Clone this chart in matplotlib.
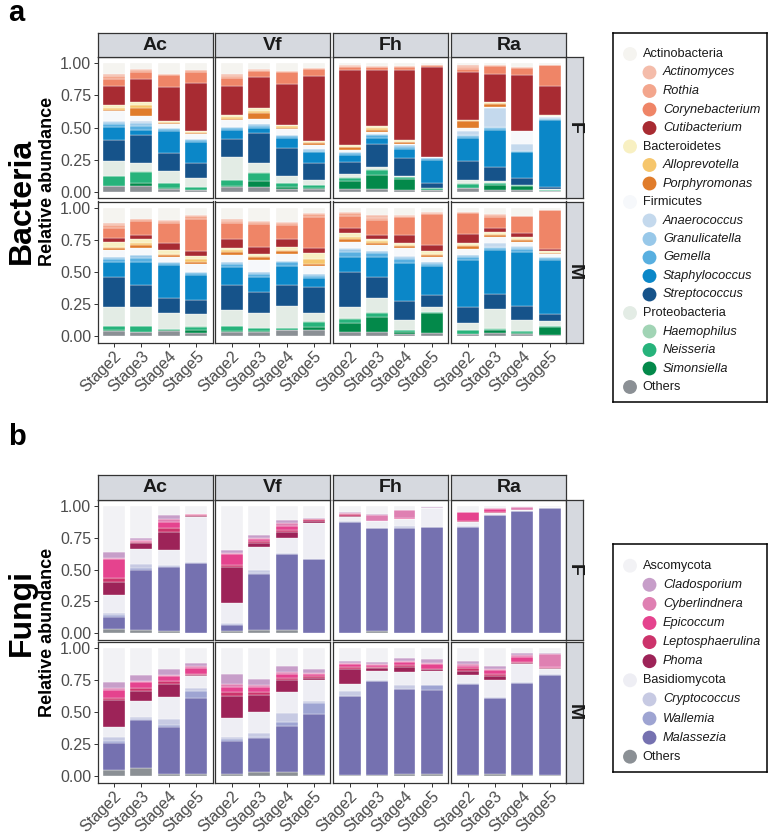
import matplotlib
matplotlib.use("Agg")
import matplotlib.pyplot as plt

plt.rcParams['font.family'] = ['Liberation Sans', 'DejaVu Sans']

W, H = 769, 836
fig = plt.figure(figsize=(W / 100, H / 100), dpi=100)

# ---------------- data ----------------
sites = ["Ac", "Vf", "Fh", "Ra"]
stages = ["Stage2", "Stage3", "Stage4", "Stage5"]
sexes = ["F", "M"]
yticks = [0.0, 0.25, 0.5, 0.75, 1.0]
ytick_labels = ["0.00", "0.25", "0.50", "0.75", "1.00"]

# stacking order bottom -> top
bac_taxa = ["Others", "Simonsiella", "Neisseria", "Haemophilus", "Proteobacteria",
            "Streptococcus", "Staphylococcus", "Gemella", "Granulicatella", "Anaerococcus",
            "Firmicutes", "Porphyromonas", "Alloprevotella", "Bacteroidetes",
            "Cutibacterium", "Corynebacterium", "Rothia", "Actinomyces", "Actinobacteria"]
bac_colors = ["#8b9095", "#03894a", "#27b37b", "#a1d4b5", "#e3ece5",
              "#16538a", "#0b87c8", "#58afe0", "#98c8e9", "#c4d9ed",
              "#f6f8fb", "#e07c2b", "#f6c66c", "#f8f0c2",
              "#a82b32", "#ef8567", "#f3a68d", "#f4bcaa", "#f5f4f0"]

# relative abundance (%) per bar, values in bac_taxa order; one row per stage
bac_F_Ac = [[4, 0, 8, 0.5, 11.5, 16, 10.5, 2.5, 1.5, 0.5, 8, 1, 1, 2.5, 15, 5.5, 2, 1.5, 8.5],
            [4, 3, 8, 1, 6.5, 22, 3.5, 3, 2.5, 1.5, 4, 6.5, 2, 2.5, 17.5, 6, 1, 1, 4.5],
            [2, 1, 3.5, 0, 9.5, 14, 17, 1.5, 1, 0.5, 2.5, 1, 0.5, 1, 26.5, 9.5, 0.5, 0.5, 8],
            [1, 0.5, 2, 0, 7, 11.5, 16.5, 1.5, 1, 0, 4, 1, 0.5, 0.5, 38, 8.5, 1, 0.5, 5]]
bac_F_Vf = [[3.5, 0.5, 5, 0, 18, 14, 7, 1.5, 1, 0, 5.5, 1, 1, 2, 22.5, 6.5, 1.5, 1, 8.5],
            [3.5, 4.5, 6.5, 1, 6.5, 23.5, 4, 2, 1.5, 0, 4, 4, 1.5, 2.5, 24.5, 4.5, 1, 0.5, 4.5],
            [2, 1.5, 3, 0, 5.5, 22, 7.5, 1.5, 1.5, 0, 4, 1.5, 1, 1, 32, 9.5, 0.5, 0, 6],
            [2, 0.5, 2.5, 0, 4, 13, 8.5, 1.5, 1, 0, 3, 2, 0.5, 1, 51, 5.5, 0.5, 0, 3.5]]
bac_F_Fh = [[2, 6, 2.5, 0.5, 3, 9, 5.5, 1.5, 0.5, 0, 2, 2, 0.5, 1.5, 58.5, 2.5, 0.5, 0.5, 1.5],
            [2, 11, 4, 0.5, 1.5, 18.5, 4.5, 2, 1, 0, 1.5, 1.5, 1.5, 2, 43.5, 2, 0.5, 0.5, 2],
            [1.5, 8.5, 1.5, 0, 1, 14, 6.5, 2, 1, 0, 1.5, 1, 0.5, 1, 55, 2.5, 0.5, 0, 2],
            [1, 0.5, 1, 0, 0.5, 3.5, 18.5, 1, 0.5, 0, 0.5, 0, 0, 0, 70, 2, 0, 0, 1]]
bac_F_Ra = [[2.5, 0.5, 3, 0.5, 2.5, 15, 17.5, 1.5, 1, 3, 3, 5, 0.5, 0.5, 37.5, 2.5, 1.5, 1, 1.5],
            [1.5, 4, 1, 0.5, 1, 11.5, 28.5, 1.5, 1, 14.5, 1, 2, 1, 1, 22, 6, 0.5, 0.5, 1],
            [1, 3, 1, 0, 0.5, 5, 20.5, 0.5, 0.5, 5, 10, 0.5, 0, 0, 43.5, 5.5, 0.5, 0, 3],
            [0.5, 0, 1, 0, 0.5, 1.5, 52.5, 1, 0.5, 0.5, 1, 0, 0, 0.5, 22.5, 17, 0, 0, 1]]
bac_M_Ac = [[4, 0.5, 3, 0.5, 15, 23, 12, 2.5, 1.5, 0, 5, 2, 0.5, 4, 3, 7.5, 2.5, 1.5, 12],
            [3, 0.5, 4, 0.5, 15, 17, 18, 3, 2, 0, 6, 2, 2, 3, 3, 10.5, 1.5, 0.5, 8.5],
            [4, 0.5, 1, 0, 12.5, 11.5, 26, 1.5, 1, 0, 4, 1.5, 0.5, 3, 6, 15, 2, 0.5, 9.5],
            [2.5, 2.5, 2, 0.5, 10, 10.5, 19.5, 1.5, 1, 0, 6, 2, 2, 2.5, 4, 24.5, 2.5, 1, 5.5]]
bac_M_Vf = [[3.5, 0.5, 3.5, 0, 13, 19.5, 14, 2.5, 1.5, 0, 5, 2.5, 1.5, 2, 7, 12, 2, 1, 9],
            [3.5, 0.5, 2.5, 0, 11.5, 16.5, 11.5, 2.5, 1.5, 0, 9.5, 2, 1, 1.5, 5.5, 18, 1.5, 1, 10],
            [4.5, 0.5, 1.5, 0, 17, 16, 15.5, 2.5, 1, 0, 5.5, 2, 1.5, 2, 6.5, 10.5, 1.5, 1, 11],
            [4.5, 2.5, 4, 0.5, 6.5, 20.5, 6.5, 2, 1.5, 0, 6, 1.5, 4, 5, 4, 24, 2, 1, 4]]
bac_M_Fh = [[3.5, 6.5, 3.5, 0.5, 9, 27, 12, 3.5, 2.5, 1, 4.5, 2.5, 1, 3.5, 4, 9.5, 2, 1, 3],
            [3.5, 11.5, 3, 0.5, 11, 16.5, 16, 2.5, 1.5, 0, 5, 2, 1, 2, 2.5, 12, 2, 2, 5.5],
            [2, 1.5, 1, 0, 8, 14.5, 30, 3, 2, 0.5, 6, 1.5, 1, 2, 6, 14, 1, 0.5, 5.5],
            [2.5, 15.5, 1, 0, 3.5, 9.5, 22.5, 2, 1.5, 0, 4, 1, 1, 2, 5, 24.5, 0.5, 0.5, 3.5]]
bac_M_Ra = [[1.5, 0.5, 2.5, 0.5, 5, 13, 36.5, 2.5, 1, 0.5, 4.5, 2, 1, 2, 6.5, 16.5, 0.5, 0, 3.5],
            [2.5, 2, 1, 0.5, 15.5, 11.5, 34, 1.5, 1, 3.5, 4, 2, 1, 1.5, 2.5, 9, 1.5, 1, 4.5],
            [2, 0.5, 1.5, 0, 8.5, 11, 42, 2.5, 1.5, 0.5, 3.5, 1.5, 0.5, 1.5, 3.5, 13, 0.5, 0, 6],
            [1, 6, 0.5, 0, 4.5, 5.5, 42, 1.5, 0.5, 0, 2.5, 0.5, 0.5, 1, 2, 30, 0, 0, 2]]

fun_taxa = ["Others", "Malassezia", "Wallemia", "Cryptococcus", "Basidiomycota",
            "Phoma", "Leptosphaerulina", "Epicoccum", "Cyberlindnera", "Cladosporium",
            "Ascomycota"]
fun_colors = ["#8b9095", "#7571b0", "#9ea4d2", "#c7cae3", "#eeeef4",
              "#9d2358", "#cc336b", "#e5438e", "#df80b2", "#c79ec9",
              "#f2f2f5"]

fun_F_Ac = [[3, 10, 1, 1.5, 14.5, 10.5, 2.5, 15, 1, 4.5, 36.5],
            [2.5, 47.5, 1, 3, 12.5, 4, 1, 1, 0.5, 1.5, 25.5],
            [2, 50, 0.5, 1, 11.5, 14.5, 3, 5, 2, 3, 7.5],
            [0.5, 55, 0, 0.5, 35, 1, 1, 0.5, 0, 0.5, 6]]
fun_F_Vf = [[2, 4.5, 0.5, 1, 16, 28, 1.5, 9, 0.5, 2.5, 34.5],
            [2.5, 44, 1, 2.5, 17.5, 3.5, 1.5, 1.5, 1, 2, 23],
            [2.5, 59.5, 0, 1, 11.5, 5, 1.5, 3.5, 2, 2.5, 11],
            [0.5, 57.5, 0, 0.5, 28, 1.5, 1.5, 0.5, 0, 0.5, 9.5]]
fun_F_Fh = [[0.5, 87, 0, 0.5, 3, 1, 1.5, 0.5, 0.5, 0.5, 5],
            [1.5, 81, 0, 0.5, 5, 0, 0, 0.5, 4.5, 0.5, 6.5],
            [0.5, 82.5, 0, 1, 6, 0, 0, 0.5, 6, 0, 3.5],
            [0.5, 83, 0, 0, 14.5, 0, 0, 0, 0, 1, 1]]
fun_F_Ra = [[0.5, 83, 0, 0.5, 3, 0.5, 1, 6.5, 0, 0, 5],
            [0.5, 92.5, 0, 0, 1.5, 0, 0.5, 2.5, 0.5, 0, 2],
            [0, 96, 0, 0, 0.5, 0, 0, 0.5, 2, 0, 1],
            [0, 98, 0, 0, 1, 0, 0, 0, 0, 0, 1]]
fun_M_Ac = [[4.5, 21.5, 1.5, 3.5, 7.5, 21, 2, 6, 1.5, 4.5, 26.5],
            [6, 38, 0.5, 1.5, 12.5, 8.5, 2, 4.5, 1, 5, 20.5],
            [2, 36.5, 1.5, 5, 17, 10.5, 2, 3.5, 1.5, 4, 16.5],
            [2, 59, 6, 2, 9, 1, 1, 5, 1, 2.5, 11.5]]
fun_M_Vf = [[1.5, 26, 1.5, 2, 14.5, 17.5, 2.5, 4.5, 2, 8, 20],
            [3.5, 26.5, 1, 2.5, 17, 13, 2.5, 4, 1.5, 4.5, 24],
            [3, 36, 3.5, 7, 16.5, 9.5, 1, 3.5, 1.5, 5, 13.5],
            [0.5, 48, 8.5, 2, 16, 2, 1, 2, 1, 2.5, 16.5]]
fun_M_Fh = [[0.5, 62, 0.5, 3.5, 6, 11, 2, 2, 1, 2, 9.5],
            [1, 73.5, 0, 0.5, 7.5, 2, 1, 1.5, 0.5, 1.5, 11],
            [1.5, 66.5, 0.5, 3, 10, 4, 1.5, 2.5, 1, 2, 7.5],
            [1.5, 66, 3.5, 0.5, 11, 1, 0.5, 3.5, 1, 3.5, 8]]
fun_M_Ra = [[1, 71.5, 0, 0.5, 6, 3.5, 2, 2, 1, 3, 9.5],
            [2, 59, 0, 1, 13.5, 2.5, 2, 3, 1, 2.5, 13.5],
            [1, 72, 0, 0.5, 14.5, 0.5, 1, 4, 1, 1.5, 4],
            [0.5, 78.5, 0, 1, 4, 0.5, 0.5, 0.5, 10, 0.5, 4]]

bac_legend = [("Actinobacteria", 0), ("Actinomyces", 1), ("Rothia", 1), ("Corynebacterium", 1),
              ("Cutibacterium", 1), ("Bacteroidetes", 0), ("Alloprevotella", 1),
              ("Porphyromonas", 1), ("Firmicutes", 0), ("Anaerococcus", 1),
              ("Granulicatella", 1), ("Gemella", 1), ("Staphylococcus", 1),
              ("Streptococcus", 1), ("Proteobacteria", 0), ("Haemophilus", 1),
              ("Neisseria", 1), ("Simonsiella", 1), ("Others", 0)]
fun_legend = [("Ascomycota", 0), ("Cladosporium", 1), ("Cyberlindnera", 1), ("Epicoccum", 1),
              ("Leptosphaerulina", 1), ("Phoma", 1), ("Basidiomycota", 0),
              ("Cryptococcus", 1), ("Wallemia", 1), ("Malassezia", 1), ("Others", 0)]

# ---------------- layout helpers ----------------
def rect(x0, y0, x1, y1):
    return [x0 / W, 1 - y1 / H, (x1 - x0) / W, (y1 - y0) / H]

col_x = [97.5, 215.4, 333.3, 451.2]
col_w = 115.0
BORDER = "#333333"
STRIP = "#d6d9df"
TICKC = "#4d4d4d"


def strip(x0, y0, x1, y1, label, rot=0):
    a = fig.add_axes(rect(x0, y0, x1, y1))
    a.set_facecolor(STRIP)
    a.set_xticks([]); a.set_yticks([])
    for s in a.spines.values():
        s.set_color(BORDER); s.set_linewidth(0.9)
    a.text(0.5, 0.5, label, ha="center", va="center", rotation=rot,
           fontsize=14, fontweight="bold", color="#1a1a1a", transform=a.transAxes)


def draw_facets(data, taxa, colors, strip_y, rows_y):
    for r, sex in enumerate(sexes):
        y0, y1 = rows_y[r]
        for c, site in enumerate(sites):
            ax = fig.add_axes(rect(col_x[c], y0, col_x[c] + col_w, y1))
            bars = data[(site, sex)]
            xs = list(range(len(stages)))
            bottoms = [0.0] * len(stages)
            for k, col in enumerate(colors):
                vals = [bars[i][k] / 100.0 for i in range(len(stages))]
                ax.bar(xs, vals, bottom=bottoms, width=0.8, color=col,
                       edgecolor="white", linewidth=0.25)
                bottoms = [b + v for b, v in zip(bottoms, vals)]
            ax.set_xlim(-0.6, 3.6)
            ax.set_ylim(-0.05, 1.05)
            for s in ax.spines.values():
                s.set_color(BORDER); s.set_linewidth(0.9)
            ax.tick_params(colors=BORDER, length=3, width=0.7, labelcolor=TICKC,
                           labelsize=11.5, pad=1.5)
            if c == 0:
                ax.set_yticks(yticks)
                ax.set_yticklabels(ytick_labels)
            else:
                ax.set_yticks([])
            if r == 1:
                ax.set_xticks(xs)
                ax.set_xticklabels(stages, rotation=45, ha="right", va="top",
                                   rotation_mode="anchor")
            else:
                ax.set_xticks([])
            if r == 0:
                strip(col_x[c], strip_y[0], col_x[c] + col_w, strip_y[1], site)
            if c == 3:
                strip(col_x[c] + col_w, y0, 583, y1, sex, rot=-90)


def draw_legend(box, entries, taxa, colors, y_first, step):
    x0, y0, x1, y1 = box
    lg = fig.add_axes(rect(x0, y0, x1, y1))
    lg.set_xlim(0, x1 - x0)
    lg.set_ylim(y1 - y0, 0)
    lg.set_xticks([]); lg.set_yticks([])
    for s in lg.spines.values():
        s.set_color("black"); s.set_linewidth(1.1)
    cmap = dict(zip(taxa, colors))
    for i, (name, level) in enumerate(entries):
        y = y_first + i * step
        cx = 17 if level == 0 else 36.5
        tx = 29.5 if level == 0 else 50
        lg.scatter([cx], [y], s=100, color=cmap[name], edgecolors="none")
        lg.text(tx, y, name, va="center", ha="left", fontsize=9.2,
                style="italic" if level else "normal", color="#1a1a1a")


# ---------------- bacteria ----------------
bac_data = {("Ac", "F"): bac_F_Ac, ("Vf", "F"): bac_F_Vf, ("Fh", "F"): bac_F_Fh, ("Ra", "F"): bac_F_Ra,
            ("Ac", "M"): bac_M_Ac, ("Vf", "M"): bac_M_Vf, ("Fh", "M"): bac_M_Fh, ("Ra", "M"): bac_M_Ra}
draw_facets(bac_data, bac_taxa, bac_colors, (33, 57), [(57, 198), (201.5, 342.5)])
draw_legend((613, 33, 767, 402), bac_legend, bac_taxa, bac_colors, 21, 18.5)

fig.text(8 / W, 1 - 13 / H, "a", fontsize=21, fontweight="bold", va="center", ha="left")
fig.text(22 / W, 1 - 201 / H, "Bacteria", fontsize=23, fontweight="bold", rotation=90,
         va="center", ha="center")
fig.text(48 / W, 1 - 181 / H, "Relative abundance", fontsize=13, fontweight="bold",
         rotation=90, va="center", ha="center")

# ---------------- fungi ----------------
fun_data = {("Ac", "F"): fun_F_Ac, ("Vf", "F"): fun_F_Vf, ("Fh", "F"): fun_F_Fh, ("Ra", "F"): fun_F_Ra,
            ("Ac", "M"): fun_M_Ac, ("Vf", "M"): fun_M_Vf, ("Fh", "M"): fun_M_Fh, ("Ra", "M"): fun_M_Ra}
draw_facets(fun_data, fun_taxa, fun_colors, (475, 499.5), [(499.5, 639.5), (642, 782.5)])
draw_legend((613, 544, 767, 772), fun_legend, fun_taxa, fun_colors, 21.7, 19.1)

fig.text(8 / W, 1 - 437 / H, "b", fontsize=21, fontweight="bold", va="center", ha="left")
fig.text(22 / W, 1 - 613 / H, "Fungi", fontsize=23, fontweight="bold", rotation=90,
         va="center", ha="center")
fig.text(48 / W, 1 - 632 / H, "Relative abundance", fontsize=13, fontweight="bold",
         rotation=90, va="center", ha="center")

fig.savefig("out.png", dpi=100, facecolor="white")
